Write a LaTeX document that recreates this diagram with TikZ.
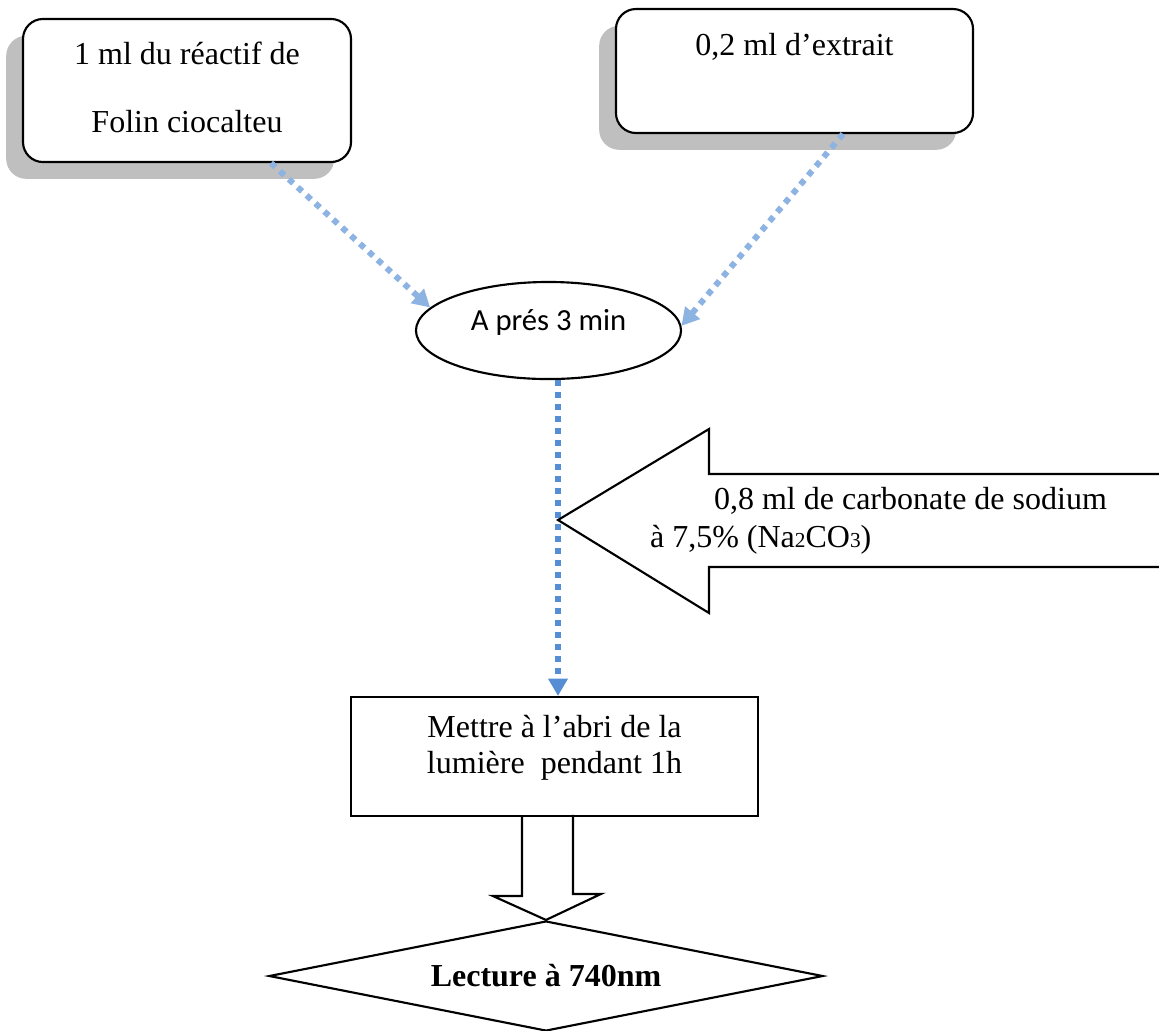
\documentclass[tikz,border=0pt]{standalone}
\usepackage{fontspec}
\setmainfont{Liberation Serif}
\newfontfamily\calibrifont{Carlito}
\usetikzlibrary{calc,shapes.geometric,shadows,arrows.meta}
\definecolor{DropBlue}{HTML}{8DB3E2}
\definecolor{FlowBlue}{HTML}{558ED5}
\definecolor{ShadowGray}{HTML}{BFBFBF}

\begin{document}
\begin{tikzpicture}[x=0.375pt, y=-0.375pt, line width=0.8pt,
  every node/.style={font=\fontsize{12}{14}\selectfont},
  reagentbox/.style={draw, fill=white, rounded corners=7.5pt, rectangle, inner sep=0pt,
    drop shadow={shadow xshift=-6.3pt, shadow yshift=-6.3pt, fill=ShadowGray, opacity=1}},
  dotflow/.style={line width=2.25pt, dash pattern=on 2.25pt off 2.25pt, -{Triangle[length=6.5pt, width=7pt]}},
  outline/.style={draw, line join=miter}]
  \path[use as bounding box, fill=white] (0,0) rectangle (1159,1030);
  \clip (0,0) rectangle (1159,1030);

  % Nodes
  \node[reagentbox, minimum width=123pt, text height=17.25pt, text depth=36.4pt, font=\fontsize{12}{25.5}\selectfont] (reagent) at (187,90.5) {\begin{tabular}[t]{@{}c@{}}1 ml du réactif de\\ Folin ciocalteu\end{tabular}};
  \node[reagentbox, minimum width=133.9pt, text height=17.25pt, text depth=29.25pt] (extract) at (794.5,71) {0,2 ml d’extrait};
  \node[draw, ellipse, inner sep=0pt, minimum width=99.4pt, minimum height=36.4pt, text height=6pt, text depth=6pt, font=\calibrifont\fontsize{11.5}{13}\selectfont] (mix) at (548.5,330.5) {A prés 3 min};
  \coordinate (joint) at (558,520);
  \node[draw, fill=white, rectangle, inner sep=0pt, minimum width=152.6pt, text height=15pt, text depth=29.6pt, font=\fontsize{12}{13.5}\selectfont] (shelter) at (554.5,756.5) {\begin{tabular}[t]{@{}c@{}}Mettre à l’abri de la\\ lumière\ \ pendant 1h\end{tabular}};
  \node[draw, diamond, aspect=5.04, inner sep=0pt, minimum width=207.75pt, minimum height=41.25pt, font=\bfseries\fontsize{12}{14}\selectfont] (reading) at (546,976) {Lecture à 740nm};

  % Paths
  \draw[dotflow, DropBlue] ($(reagent.south)+(84,0)$) -- (mix.169);
  \draw[dotflow, DropBlue] ($(extract.south)+(48.5,0)$) -- (mix.2);
  \draw[dotflow, FlowBlue] (mix.south -| joint) -- (shelter.north -| joint);
  \draw[outline, fill=white] (joint) -- ++(151,-91) -- ++(0,45) -- ++(470,0) -- ++(0,93) -- ++(-470,0) -- ++(0,46) -- cycle;
  \node[anchor=base west, inner sep=0pt, font=\fontsize{12}{14.25}\selectfont] (carbonate) at (649,509) {\begin{tabular}[t]{@{}l@{}}\hspace*{24pt}0,8 ml de carbonate de sodium\\ à 7,5\% (Na{\fontsize{8}{8}\selectfont 2}CO{\fontsize{8}{8}\selectfont 3})\end{tabular}};
  \draw[outline] ($(shelter.south)+(-32.5,0)$) -- ++(0,79) -- ++(-29,0) -- (reading.north) -- ++(55,-26) -- ++(-28,0) -- ++(0,-79);
\end{tikzpicture}
\end{document}
